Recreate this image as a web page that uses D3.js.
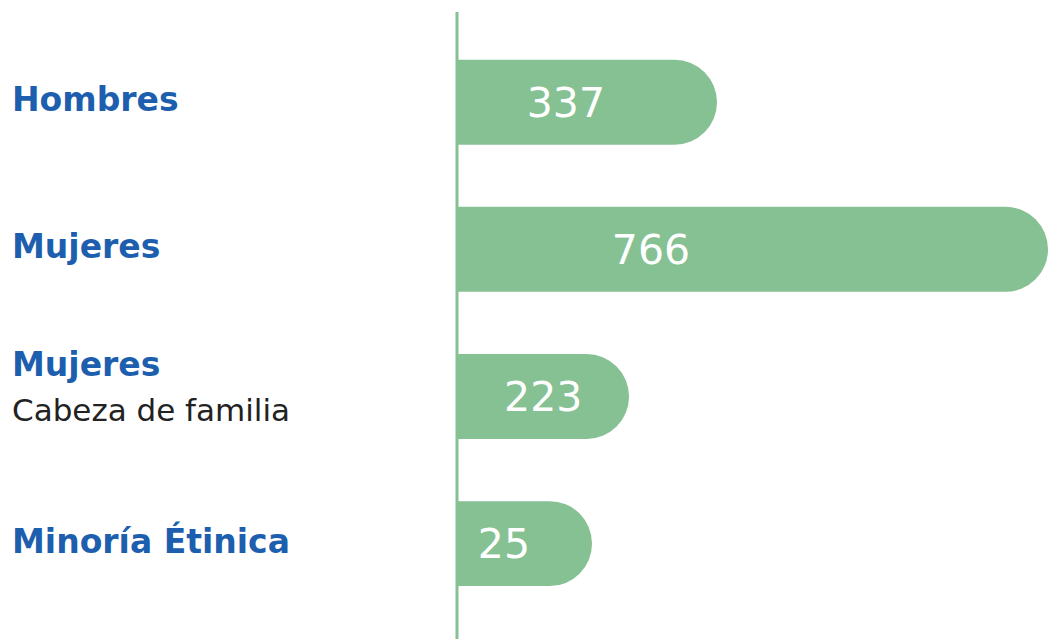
<!DOCTYPE html>
<html>
<head>
	<meta charset="utf-8">
	<title>Población</title>
	<script src="https://d3js.org/d3.v7.min.js"></script>
	<style type="text/css">
		body{ margin:0; background:#fff; }
		.cat{ font-family:"DejaVu Sans", sans-serif; font-weight:700; fill:#1d5fae; }
		.sub{ font-family:"DejaVu Sans", sans-serif; font-weight:400; fill:#222; }
		.val{ font-family:"DejaVu Sans", sans-serif; font-weight:400; fill:#fff; }
	</style>
</head>
<body>
	<script type="text/javascript">
		// datos
		var categories = ["Hombres", "Mujeres", "Mujeres", "Minoría Étinica"];
		var subtitles = ["", "", "Cabeza de familia", ""];
		var values = [337, 766, 223, 25];

		var w = 1049;
		var h = 639;
		var x0 = 457;           // eje vertical
		var minBar = 135;       // ancho minimo de barra

		var svg = d3.select("body").append("svg")
		  .attr("width", w)
		  .attr("height", h);

		var xScale = d3.scaleLinear()
		  .domain([0, d3.max(values)])
		  .range([0, 591]);

		// posicion del numero dentro de la barra
		var labelScale = d3.scaleLinear()
		  .domain([0, d3.max(values)])
		  .range([42, 194]);

		var yScale = d3.scaleBand()
		  .domain(d3.range(values.length))
		  .range([28.6, 617.2])
		  .paddingInner(0.4224)
		  .paddingOuter(0.2112);

		var bh = yScale.bandwidth();

		function barPath(wd, bh){
			var r = bh / 2;
			return "M0,0H" + (wd - r) +
			  "A" + r + "," + r + " 0 0 1 " + (wd - r) + "," + bh +
			  "H0Z";
		}

		var rows = svg.selectAll("g.row")
		  .data(values)
		  .enter()
		  .append("g")
		  .attr("class", "row")
		  .attr("transform", function(d, i){ return "translate(" + x0 + "," + yScale(i) + ")"; });

		rows.append("path")
		  .attr("d", function(d){ return barPath(Math.max(xScale(d), minBar), bh); })
		  .attr("fill", "#86c194");

		rows.append("text")
		  .attr("class", "val")
		  .attr("x", function(d){ return labelScale(d); })
		  .attr("y", bh / 2)
		  .attr("dy", "0.36em")
		  .attr("text-anchor", "middle")
		  .attr("font-size", "41px")
		  .text(function(d){ return d; });

		// eje
		svg.append("line")
		  .attr("x1", x0).attr("x2", x0)
		  .attr("y1", 12).attr("y2", h)
		  .attr("stroke", "#86c194")
		  .attr("stroke-width", 3);

		// etiquetas
		var labels = svg.selectAll("g.lab")
		  .data(categories)
		  .enter()
		  .append("g")
		  .attr("class", "lab")
		  .attr("transform", function(d, i){ return "translate(12," + (yScale(i) + bh / 2 - 3) + ")"; });

		labels.append("text")
		  .attr("class", "cat")
		  .attr("font-size", "33px")
		  .attr("y", function(d, i){ return subtitles[i] ? -29 : 0; })
		  .attr("dy", "0.36em")
		  .text(function(d){ return d; });

		labels.append("text")
		  .attr("class", "sub")
		  .attr("font-size", "31px")
		  .attr("y", 16)
		  .attr("dy", "0.36em")
		  .text(function(d, i){ return subtitles[i]; });
	</script>
</body>
</html>
